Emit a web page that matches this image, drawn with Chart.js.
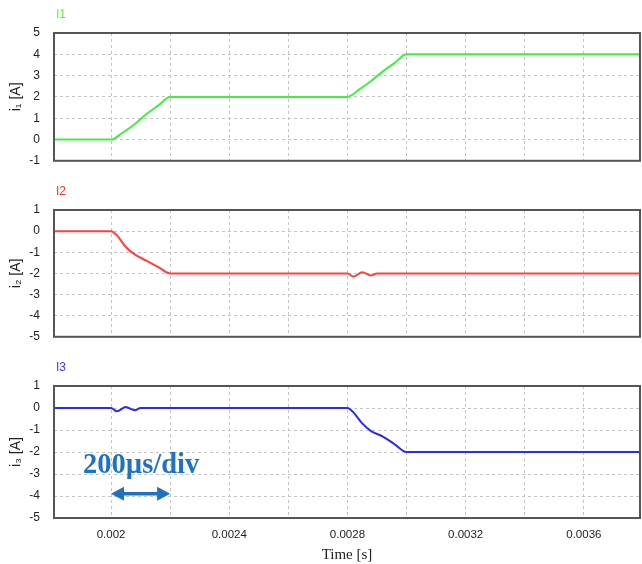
<!DOCTYPE html>
<html>
<head>
<meta charset="utf-8">
<script src="https://cdn.jsdelivr.net/npm/chart.js@4.4.1/dist/chart.umd.min.js"></script>
<style>
  body { margin: 0; background: #fff; }
  #wrap { position: relative; width: 642px; height: 564px; overflow: hidden; }
  #wrap canvas { position: absolute; left: 0; }
  #note { position: absolute; left: 83px; top: 450px; font: bold 28.5px "Liberation Serif", "DejaVu Serif", serif; color: #1e72c2; white-space: nowrap; line-height: 1; }
</style>
</head>
<body>
<div id="wrap">
  <canvas id="c1" width="642" height="182" style="top:0"></canvas>
  <canvas id="c2" width="642" height="176" style="top:182px"></canvas>
  <canvas id="c3" width="642" height="206" style="top:358px"></canvas>
  <div id="note">200µs/div</div>
</div>
<script>
// time axis [s]
var xMin = 0.001807
var xMax = 0.00379

// I1 [A]
var i1Time = [0.001807, 0.002, 0.00204, 0.00208, 0.00212, 0.00216, 0.0022, 0.0028, 0.00284, 0.00288, 0.00292, 0.00296, 0.003, 0.00379]
var i1Vals = [0, 0, 0.33, 0.72, 1.2, 1.6, 2, 2, 2.35, 2.75, 3.2, 3.6, 4, 4]

// I2 [A]
var i2Time = [0.001807, 0.002, 0.00202, 0.00205, 0.00208, 0.00212, 0.00216, 0.0022, 0.0028, 0.00282, 0.00285, 0.00288, 0.0029, 0.00379]
var i2Vals = [0, 0, -0.2, -0.75, -1.1, -1.4, -1.7, -2, -2, -2.15, -1.95, -2.1, -2, -2]

// I3 [A]
var i3Time = [0.001807, 0.002, 0.00202, 0.00205, 0.00208, 0.0021, 0.0028, 0.00282, 0.00285, 0.00288, 0.00292, 0.00296, 0.003, 0.00379]
var i3Vals = [0, 0, -0.15, 0.05, -0.1, 0, 0, -0.2, -0.7, -1.05, -1.3, -1.65, -2, -2]

function toPoints(xs, ys) {
    return xs.map(function(x, i) {
        return { x: x, y: ys[i] }
    })
}

// frame + small channel title
var framePlugin = {
    id: 'frame',
    afterDraw: function(chart, args, opts) {
        var a = chart.chartArea, ctx = chart.ctx
        ctx.save()
        ctx.strokeStyle = '#555'
        ctx.lineWidth = 2
        ctx.strokeRect(a.left, a.top, a.right - a.left, a.bottom - a.top)
        ctx.fillStyle = opts.color
        ctx.font = '12px "Liberation Sans", Arial, sans-serif'
        ctx.textBaseline = 'middle'
        ctx.fillText(opts.text, a.left + 2, a.top - 18)
        ctx.restore()
    }
}

// double arrow for the time division
var arrowPlugin = {
    id: 'arrow',
    afterDatasetsDraw: function(chart) {
        if (!chart.options.plugins.arrow) return
        var x = chart.scales.x, y = chart.scales.y, ctx = chart.ctx
        var x0 = x.getPixelForValue(0.002), x1 = x.getPixelForValue(0.0022)
        var yy = y.getPixelForValue(-3.9)
        ctx.save()
        ctx.strokeStyle = '#1e72c2'
        ctx.fillStyle = '#1e72c2'
        ctx.lineWidth = 3.5
        ctx.beginPath()
        ctx.moveTo(x0 + 8, yy)
        ctx.lineTo(x1 - 8, yy)
        ctx.stroke()
        ctx.beginPath()
        ctx.moveTo(x0, yy); ctx.lineTo(x0 + 13, yy - 7); ctx.lineTo(x0 + 13, yy + 7); ctx.closePath()
        ctx.moveTo(x1, yy); ctx.lineTo(x1 - 13, yy - 7); ctx.lineTo(x1 - 13, yy + 7); ctx.closePath()
        ctx.fill()
        ctx.restore()
    }
}

function makeChart(id, title, titleColor, color, xs, ys, yMin, yMax, yLabel, padTop, xHeight, showX, withArrow) {
    var ctx = document.getElementById(id).getContext('2d')
    return new Chart(ctx, {
        type: 'line',
        data: {
            datasets: [{
                label: title,
                data: toPoints(xs, ys),
                borderColor: color,
                borderWidth: 2,
                pointRadius: 0,
                cubicInterpolationMode: 'monotone',
                fill: false
            }]
        },
        options: {
            responsive: false,
            animation: false,
            layout: { padding: { top: padTop, right: 2, left: 0, bottom: 0 } },
            plugins: {
                legend: { display: false },
                tooltip: { enabled: false },
                frame: { text: title, color: titleColor },
                arrow: withArrow
            },
            scales: {
                x: {
                    type: 'linear',
                    min: xMin,
                    max: xMax,
                    border: { display: false, dash: [3, 3] },
                    grid: { color: '#c4c4c4', drawTicks: false },
                    ticks: {
                        display: showX,
                        stepSize: 0.0002,
                        includeBounds: false,
                        autoSkip: false,
                        maxRotation: 0,
                        padding: 10,
                        color: '#222',
                        font: { family: '"Liberation Sans", Arial, sans-serif', size: 11.5 },
                        callback: function(v) {
                            var k = Math.round(v / 0.0002)
                            return k % 2 === 0 ? parseFloat((k * 0.0002).toFixed(4)).toString() : ''
                        }
                    },
                    title: {
                        display: showX,
                        text: 'Time [s]',
                        color: '#222',
                        padding: { top: 0, bottom: 0 },
                        font: { family: '"Liberation Serif", "Times New Roman", serif', size: 15 }
                    },
                    afterFit: function(scale) { scale.height = xHeight }
                },
                y: {
                    min: yMin,
                    max: yMax,
                    border: { display: false, dash: [3, 3] },
                    grid: { color: '#c4c4c4', drawTicks: false },
                    ticks: {
                        stepSize: 1,
                        padding: 14,
                        color: '#222',
                        font: { family: '"Liberation Sans", Arial, sans-serif', size: 12 }
                    },
                    title: {
                        display: true,
                        text: yLabel,
                        color: '#222',
                        padding: { top: 8, bottom: 0 },
                        font: { family: '"Liberation Sans", Arial, sans-serif', size: 14 }
                    },
                    afterFit: function(scale) { scale.width = 54 }
                }
            }
        },
        plugins: [framePlugin, arrowPlugin]
    })
}

makeChart('c1', 'I1', '#66f033', '#3ff03f', i1Time, i1Vals, -1, 5, 'i\u2081 [A]', 33, 11, false, false)
makeChart('c2', 'I2', '#ff3030', '#ff4040', i2Time, i2Vals, -5, 1, 'i\u2082 [A]', 28, 11, false, false)
makeChart('c3', 'I3', '#3a3aff', '#2a2af5', i3Time, i3Vals, -5, 1, 'i\u2083 [A]', 28, 46, true, true)
</script>
</body>
</html>
